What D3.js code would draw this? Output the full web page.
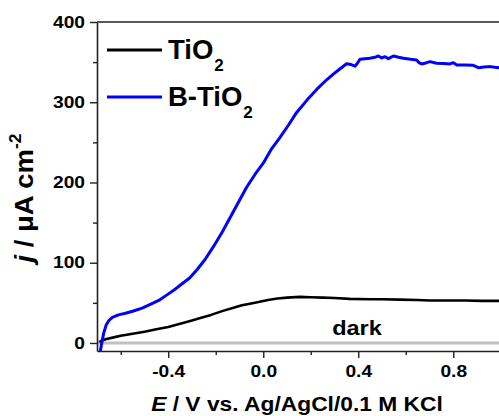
<!DOCTYPE html>
<html>
<head>
<meta charset="utf-8">
<script src="https://cdn.jsdelivr.net/npm/d3@7"></script>
<style>
  html, body { margin: 0; padding: 0; background: #fff; }
  svg { display: block; }
  text { font-family: "Liberation Sans", Arial, sans-serif; font-weight: bold; fill: #000; }
</style>
</head>
<body>
<svg id="chart" width="499" height="416"></svg>
<script>
// ---- data (E in V vs Ag/AgCl, j in µA cm^-2) ----
const tio2E = [-0.69,-0.68,-0.66,-0.63,-0.6,-0.55,-0.5,-0.45,-0.4,-0.35,-0.3,-0.265,-0.22,-0.17,-0.125,-0.09,-0.056,-0.02,0.02,0.06,0.1,0.155,0.2,0.25,0.3,0.365,0.45,0.5,0.575,0.65,0.7,0.785,0.85,0.92,1.0];
const tio2J = [1,3,5,7,9,11.5,14,17,20,24,28,31,35,40,44,47,49,51,53.5,55.5,56.5,57.5,57,56.5,56,55,54.5,54.5,54,53.5,53,53,53,52.5,52.5];

const btio2E = [-0.687,-0.68,-0.672,-0.662,-0.65,-0.635,-0.61,-0.58,-0.55,-0.51,-0.48,-0.44,-0.41,-0.38,-0.35,-0.31,-0.28,-0.245,-0.21,-0.175,-0.14,-0.105,-0.07,-0.035,0.0,0.035,0.07,0.105,0.14,0.185,0.225,0.267,0.295,0.325,0.351,0.37,0.386,0.395,0.407,0.449,0.47,0.485,0.499,0.513,0.527,0.548,0.57,0.59,0.62,0.646,0.657,0.667,0.688,0.702,0.73,0.76,0.786,0.8,0.815,0.85,0.884,0.906,0.93,0.955,0.975,0.99,1.0];
const btio2J = [-12,0,12,22,28,32,35,37,39.5,43.5,47.5,53,59,65,72,81,91,104,120,137,156,175,194,210,224,242,256,271,287,303,316,328,335,342,348,347,345,348,353.5,354.8,356,357.7,355.2,356.8,354.3,357.7,356,354.8,353.5,352.7,349,347.7,349.3,350.6,348.6,348.2,347.7,349.3,346.5,346.3,346,343.1,344,344.4,343.5,343.1,343.5];

const darkE = [-0.7, 1.0];
const darkJ = [0, 0];

const xMajorTicks = [-0.4, 0.0, 0.4, 0.8];
const xMinorTicks = [-0.6, -0.2, 0.2, 0.6, 1.0];
const yMajorTicks = [0, 100, 200, 300, 400];
const yMinorTicks = [50, 150, 250, 350];
const xTickLabels = ["-0.4", "0.0", "0.4", "0.8"];

const legendNames = ["TiO", "B-TiO"];
const legendColors = ["#000000", "#0000ff"];

// ---- layout ----
const svg = d3.select("#chart");
const mLeft = 97, mTop = 22, mBottom = 351;
const x = d3.scaleLinear().domain([-0.7, 1.0]).range([mLeft, 500.75]);
const y = d3.scaleLinear().domain([-10, 400]).range([mBottom, mTop]);
const SX = 1.2; // horizontal stretch of the original figure's axis text

svg.append("defs").append("clipPath").attr("id", "plot")
  .append("rect").attr("x", mLeft).attr("y", mTop).attr("width", 499 - mLeft).attr("height", mBottom - mTop);

const plot = svg.append("g").attr("clip-path", "url(#plot)");
const line = d3.line().x(d => x(d[0])).y(d => y(d[1]));

plot.append("path").datum(d3.zip(darkE, darkJ)).attr("d", line)
  .attr("fill", "none").attr("stroke", "#c0c0c0").attr("stroke-width", 3);
plot.append("path").datum(d3.zip(tio2E, tio2J)).attr("d", line)
  .attr("fill", "none").attr("stroke", "#000").attr("stroke-width", 2.6).attr("stroke-linejoin", "round");
plot.append("path").datum(d3.zip(btio2E, btio2J)).attr("d", line)
  .attr("fill", "none").attr("stroke", "#0000ff").attr("stroke-width", 3).attr("stroke-linejoin", "round");

// ---- axes ----
const axisColor = "#222";
function styleAxis(g) {
  g.selectAll("path.domain").attr("stroke", axisColor).attr("stroke-width", 1.6);
  g.selectAll("line").attr("stroke", axisColor).attr("stroke-width", 1.4);
}
const gxm = svg.append("g").attr("transform", `translate(0,${mBottom})`)
  .call(d3.axisBottom(x).tickValues(xMinorTicks).tickSize(4).tickFormat(""));
gxm.select("path.domain").remove(); styleAxis(gxm);
const gym = svg.append("g").attr("transform", `translate(${mLeft},0)`)
  .call(d3.axisLeft(y).tickValues(yMinorTicks).tickSize(4).tickFormat(""));
gym.select("path.domain").remove(); styleAxis(gym);

const gx = svg.append("g").attr("transform", `translate(0,${mBottom})`)
  .call(d3.axisBottom(x).tickValues(xMajorTicks).tickSize(7).tickSizeOuter(0).tickPadding(8)
    .tickFormat((d, i) => xTickLabels[i]));
styleAxis(gx);
gx.selectAll("text").attr("font-size", 16).attr("font-family", "Liberation Sans, Arial, sans-serif")
  .attr("font-weight", "bold").attr("fill", "#000")
  .attr("transform", `scale(${SX},1)`);

const gy = svg.append("g").attr("transform", `translate(${mLeft},0)`)
  .call(d3.axisLeft(y).tickValues(yMajorTicks).tickSize(7).tickSizeOuter(0).tickFormat(d3.format("d")));
styleAxis(gy);
gy.selectAll("text").attr("font-size", 16).attr("font-family", "Liberation Sans, Arial, sans-serif")
  .attr("font-weight", "bold").attr("fill", "#000")
  .attr("x", -12 / SX).attr("transform", `scale(${SX},1)`);

svg.append("line").attr("x1", mLeft).attr("x2", 499).attr("y1", mTop).attr("y2", mTop)
  .attr("stroke", axisColor).attr("stroke-width", 1.6);

// ---- legend ----
legendNames.forEach((name, i) => {
  const ly = 50 + i * 47;
  svg.append("line").attr("x1", 107).attr("x2", 162).attr("y1", ly).attr("y2", ly)
    .attr("stroke", legendColors[i]).attr("stroke-width", 3);
  const t = svg.append("text").attr("x", 168).attr("y", ly + 8.5).attr("font-size", 27.5);
  t.append("tspan").text(name);
  t.append("tspan").attr("font-size", 17).attr("dy", 12).attr("dx", 1).text("2");
});

svg.append("text").attr("transform", `translate(357,335) scale(1.12,1)`)
  .attr("text-anchor", "middle").attr("font-size", 21).text("dark");

const xt = svg.append("text").attr("transform", `translate(297,411) scale(1.14,1)`)
  .attr("text-anchor", "middle").attr("font-size", 20);
xt.append("tspan").attr("font-style", "italic").text("E");
xt.append("tspan").text(" / V vs. Ag/AgCl/0.1 M KCl");

const yt = svg.append("text").attr("transform", `translate(33,198) rotate(-90) scale(1.25,1.2)`)
  .attr("text-anchor", "middle").attr("font-size", 22);
yt.append("tspan").attr("font-style", "italic").text("j");
yt.append("tspan").text(" / \u03BCA cm");
yt.append("tspan").attr("font-size", 14).attr("dy", -10).text("-2");
</script>
</body>
</html>
